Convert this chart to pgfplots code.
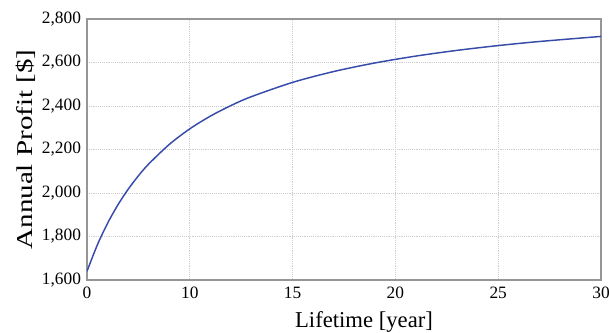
\documentclass[border=0pt]{standalone}
\usepackage{fontspec}
\setmainfont{Liberation Serif}
\usepackage{graphicx}
\usepackage{pgfplots}
\pgfplotsset{compat=1.18}
\definecolor{curveblue}{RGB}{55,75,170}
\definecolor{axgray}{RGB}{150,150,150}
\definecolor{gridgray}{RGB}{205,205,205}
\begin{document}
\begin{tikzpicture}[x=1pt,y=1pt]
\begin{axis}[
  scale only axis,
  width=385.5pt, height=195.75pt,
  xmin=5, xmax=30, ymin=1600, ymax=2800,
  xtick={5,10,15,20,25,30},
  xticklabels={0,10,15,20,25,30},
  ytick={1600,1800,2000,2200,2400,2600,2800},
  yticklabels={{1,600},{1,800},{2,000},{2,200},{2,400},{2,600},{2,800}},
  grid=major,
  major grid style={gridgray, densely dotted, line width=0.5pt},
  axis line style={axgray, line width=1pt},
  major tick length=0pt,
  tick label style={font=\fontsize{13}{13}\selectfont, black},
  /pgf/number format/assume math mode=true,
  xticklabel style={yshift=-2pt},
  yticklabel style={xshift=-1pt},
  xlabel={Lifetime [year]},
  ylabel={\scalebox{1.28}[1]{Annual Profit [\$]}},
  label style={font=\fontsize{17}{17}\selectfont},
  xlabel style={xshift=15pt, yshift=-2.5pt},
  ylabel style={yshift=-2pt},
  clip=true,
]
\coordinate (O) at (rel axis cs:0,0);
\addplot[curveblue, line width=1.1pt, smooth] coordinates {
(5,1640) (5.5,1760.6) (6,1860.7) (6.5,1944.9) (7,2016.9) (7.5,2079.0)
(8,2133.2) (9,2223.2) (10,2295.0) (11,2353.4) (12,2402.1) (13,2443.1)
(15,2508.6) (17,2558.5) (19,2597.8) (21,2629.6) (23,2655.8) (25,2677.8)
(27,2696.5) (30,2719.9)
};
\end{axis}
\pgfresetboundingbox
\path[use as bounding box] (O) ++(-65.25pt,-39pt) rectangle ++(456.75pt,249pt);
\end{tikzpicture}
\end{document}
